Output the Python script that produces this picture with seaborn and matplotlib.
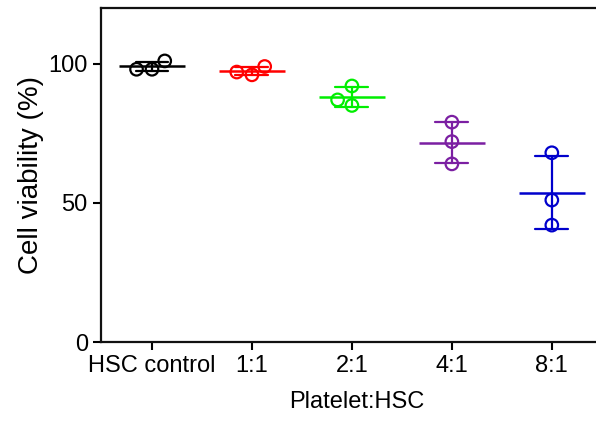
import numpy as np
import pandas as pd
import seaborn as sns
import matplotlib.pyplot as plt

# data (3 replicates per group)
groups = ["HSC control", "1:1", "2:1", "4:1", "8:1"]
hsc_control = [98, 98, 101]
ratio_1_1 = [97, 96, 99]
ratio_2_1 = [87, 92, 85]
ratio_4_1 = [79, 72, 64]
ratio_8_1 = [68, 51, 42]
colors = ["#000000", "#FF0000", "#00EE00", "#7B1FA2", "#0000CC"]

values = [hsc_control, ratio_1_1, ratio_2_1, ratio_4_1, ratio_8_1]
df = pd.DataFrame({
    "group": np.repeat(groups, [len(v) for v in values]),
    "viability": np.concatenate(values),
})
palette = dict(zip(groups, colors))

sns.set_style("ticks")
plt.rcParams["font.family"] = ["Liberation Sans", "DejaVu Sans"]
plt.rcParams.update({"text.color": "black", "axes.labelcolor": "black",
                     "xtick.color": "black", "ytick.color": "black"})

fig = plt.figure(figsize=(5.96, 4.21), dpi=100)
ax = fig.add_axes([0.1695, 0.1876, 0.857, 0.7933])

# mean +/- SD
sns.pointplot(data=df, x="group", y="viability", hue="group", order=groups,
              palette=palette, errorbar="sd", capsize=0.33, markers="_",
              linestyles="none", markersize=47, markeredgewidth=1.8,
              err_kws={"linewidth": 1.6}, legend=False, ax=ax)

# individual points
sns.swarmplot(data=df, x="group", y="viability", hue="group", order=groups,
              palette=palette, size=9, legend=False, ax=ax, zorder=5)
for coll in ax.collections:
    fc = coll.get_facecolors()
    if len(fc):
        coll.set_edgecolors(fc)
        coll.set_facecolors("none")
        coll.set_linewidth(1.6)

ax.set_xlim(-0.51, 4.6)
ax.set_ylim(0, 120)
ax.set_yticks([0, 50, 100])
ax.set_xlabel("Platelet:HSC", fontsize=17, labelpad=10)
ax.set_ylabel("Cell viability (%)", fontsize=20, labelpad=3)
ax.tick_params(labelsize=17, width=1.5, length=6)
for s in ax.spines.values():
    s.set_linewidth(1.6)
    s.set_color("#111111")

fig.savefig("out.png", dpi=100)
